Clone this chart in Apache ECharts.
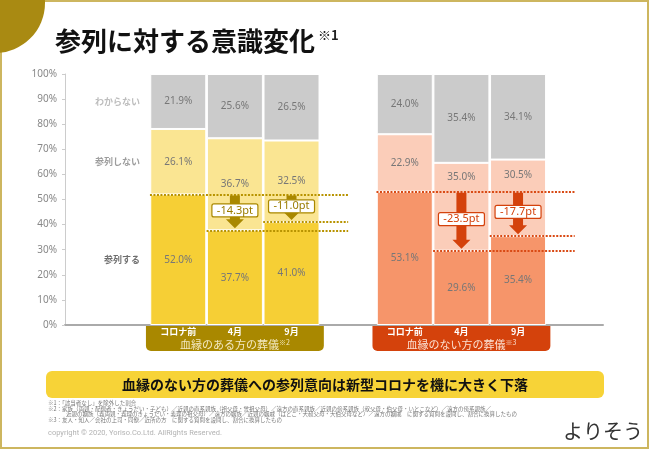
<!DOCTYPE html>
<html><head><meta charset="utf-8">
<script src="https://cdn.jsdelivr.net/npm/echarts@6/dist/echarts.min.js"></script>
<style>html,body{margin:0;padding:0;background:#fff}#c{width:650px;height:450px}</style>
</head><body><div id="c"></div>
<script>
// ---- data ----
const categories = ['コロナ前', '4月', '9月'];
const groupTitles = ['血縁のある方の葬儀', '血縁のない方の葬儀'];
const groupNotes = ['※2', '※3'];
const rowLabels = ['参列する', '参列しない', 'わからない'];
const kinAttend = [52.0, 37.7, 41.0];
const kinNotAttend = [26.1, 36.7, 32.5];
const kinUnknown = [21.9, 25.6, 26.5];
const nonKinAttend = [53.1, 29.6, 35.4];
const nonKinNotAttend = [22.9, 35.0, 30.5];
const nonKinUnknown = [24.0, 35.4, 34.1];
const titleText = '参列に対する意識変化';
const titleNote = '※1';
const bannerText = '血縁のない方の葬儀への参列意向は新型コロナを機に大きく下落';
const footnotes = [
  '※1：「該当者なし」を除外した割合',
  '※2：家族（両親・配偶者・きょうだい・子ども）／近親の直系親族（祖父母・曾祖父母）／遠方の直系親族／近親の傍系親族（叔父母・伯父母・いとこなど）／遠方の傍系親族／',
  '近親の姻族（義両親・義理のきょうだい・義理の祖父母）／遠方の姻族／近親の姻戚（はとこ・大叔父母・大伯父母など）／遠方の姻戚　に関する質問を設問し、割合に換算したもの',
  '※3：友人・知人／会社の上司・同僚／近所の方　に関する質問を設問し、割合に換算したもの'
];
const copyrightText = 'copyright © 2020, Yoriso.Co.Ltd. AllRights Reserved.';
const logoText = 'よりそう';

// ---- styles / layout ----
const JP = "'Noto Sans CJK JP', 'Noto Sans', sans-serif";
const groupStyles = [
  {bars: ['#F6CF35', '#FAE592', '#CBCBCB'], accent: '#A98800', line: '#B89300', text: '#9A7C00', title: '#F3E9C2'},
  {bars: ['#F6956A', '#FBCDB9', '#CBCBCB'], accent: '#D4420C', line: '#D94A14', text: '#D4420C', title: '#FBE0D2'}
];
const rowLabelColors = ['#6f6f6f', '#9d9d9d', '#bdbdbd'];

// half-bar-width slots along the x axis
const SLOTS = 20;
const slotNames = Array.from({length: SLOTS}, (_, k) => 's' + k);
const xOf = (g, i) => 4 + g * 8 + i * 2;

const groups = [[kinAttend, kinNotAttend, kinUnknown], [nonKinAttend, nonKinNotAttend, nonKinUnknown]];

function buildBarSeries(pxPerUnit) {
  return rowLabels.map((name, s) => {
    const data = new Array(SLOTS).fill(null);
    groups.forEach((grp, g) => grp[s].forEach((v, i) => {
      const item = {value: v, itemStyle: {color: groupStyles[g].bars[s]}};
      // keep the label clear of the change arrow: move it into the part above the reference line
      if (s === 1 && i > 0) {
        const base = grp[0][i];
        const mid = base + v / 2;
        const ref = grp[0][0];
        if (mid < ref && mid > base) {
          const newMid = (ref + base + v) / 2;
          item.label = {offset: [0, -(newMid - mid) * pxPerUnit]};
        }
      }
      data[xOf(g, i)] = item;
    }));
    const ser = {
      type: 'bar', name, stack: 'total', barWidth: 56, data,
      itemStyle: {borderColor: '#fff', borderWidth: 1},
      label: {show: true, position: 'inside', formatter: p => Number(p.value).toFixed(1) + '%', color: '#777', fontSize: 10, fontFamily: "'Noto Sans', sans-serif"},
      z: 2
    };
    if (s === 0) {
      ser.markLine = {
        silent: true, symbol: ['none', 'none'], label: {show: false},
        lineStyle: {type: [2, 1.5], width: 2},
        data: groups.flatMap((grp, g) => grp[0].map((v, i) => [
          {coord: [xOf(g, i) - 1, v], lineStyle: {color: groupStyles[g].line, type: [2, 1.5], width: 2}},
          {coord: [xOf(g, 0) + 6, v]}
        ]))
      };
    }
    return ser;
  });
}

// arrows
const arrowData = groups.flatMap((grp, g) => [1, 2].map(i => [xOf(g, i), grp[0][0], grp[0][i], g]));
const arrowSeries = {
  type: 'custom', z: 10, silent: true,
  encode: {x: 0, y: [1, 2]},
  data: arrowData,
  renderItem(params, api) {
    const st = groupStyles[api.value(3)];
    const top = api.coord([api.value(0), api.value(1)]);
    const bot = api.coord([api.value(0), api.value(2)]);
    const cx = top[0], y0 = top[1] + 1, tip = bot[1] - 2, headTop = tip - 9;
    const delta = (api.value(2) - api.value(1)).toFixed(1) + 'pt';
    const boxY = (y0 + headTop) / 2 + 3;
    return {type: 'group', children: [
      {type: 'polygon', shape: {points: [[cx - 5, y0], [cx + 5, y0], [cx + 5, headTop], [cx + 9, headTop], [cx, tip], [cx - 9, headTop], [cx - 5, headTop]]}, style: {fill: st.accent}},
      {type: 'rect', shape: {x: cx - 23, y: boxY - 6.5, width: 46, height: 13, r: 2}, style: {fill: '#fff', stroke: st.accent, lineWidth: 1.2}},
      {type: 'text', style: {text: delta, x: cx, y: boxY, align: 'center', verticalAlign: 'middle', fill: st.text, font: "11px 'Noto Sans', sans-serif"}}
    ]};
  }
};

// category bands under the axis
const bandSeries = {
  type: 'custom', z: 5, silent: true,
  encode: {x: [0, 1]},
  data: groups.map((grp, g) => [xOf(g, 0), xOf(g, 2), g]),
  renderItem(params, api) {
    const g = api.value(2), st = groupStyles[g];
    const l = api.coord([api.value(0) - 1, 0]);
    const r = api.coord([api.value(1) + 1, 0]);
    const y = l[1] + 1;
    const children = [
      {type: 'rect', shape: {x: l[0] - 4, y: y, width: r[0] - l[0] + 8, height: 25, r: [0, 0, 5, 5]}, style: {fill: st.accent}}
    ];
    categories.forEach((c, i) => {
      const p = api.coord([api.value(0) + i * 2, 0]);
      children.push({type: 'text', style: {text: c, x: p[0], y: y + 6, align: 'center', verticalAlign: 'middle', fill: '#fff', font: "bold 9px " + JP}});
    });
    children.push({type: 'text', style: {
      text: '{t|' + groupTitles[g] + '}{s|' + groupNotes[g] + '}',
      x: (l[0] + r[0]) / 2, y: y + 19, align: 'center', verticalAlign: 'middle',
      rich: {t: {fontSize: 11, fontFamily: JP, fill: st.title}, s: {fontSize: 7, fontFamily: JP, fill: st.title, padding: [0, 0, 6, 0]}}
    }});
    return {type: 'group', children};
  }
};

// row labels left of the first bar
let acc = 0;
const rowLabelData = rowLabels.map((_, s) => {
  const v = groups[0][s][0];
  const mid = acc + v / 2; acc += v;
  return [xOf(0, 0), mid, s];
});
const rowLabelSeries = {
  type: 'custom', z: 5, silent: true,
  encode: {x: 0, y: 1},
  data: rowLabelData,
  renderItem(params, api) {
    const p = api.coord([api.value(0) - 1, api.value(1)]);
    return {type: 'text', style: {text: rowLabels[api.value(2)], x: p[0] - 10, y: p[1], align: 'right', verticalAlign: 'middle', fill: rowLabelColors[api.value(2)], font: "bold 9px " + JP}};
  }
};

const chart = echarts.init(document.getElementById('c'), null, {renderer: 'canvas'});
const baseOption = {
  animation: false,
  textStyle: {fontFamily: JP},
  grid: {left: 65, right: 47, top: 74, bottom: 125, containLabel: false},
  xAxis: {type: 'category', data: slotNames, boundaryGap: false,
    axisLine: {show: true, lineStyle: {color: '#aaaaaa', width: 2}}, axisTick: {show: false}, axisLabel: {show: false}, splitLine: {show: false}},
  yAxis: {type: 'value', min: 0, max: 100, interval: 10,
    axisLine: {show: true, lineStyle: {color: '#cccccc', width: 1}},
    axisTick: {show: true, length: 3, lineStyle: {color: '#cccccc'}},
    axisLabel: {formatter: '{value}%', color: '#888', fontSize: 10, margin: 8, fontFamily: "'Noto Sans', sans-serif"},
    splitLine: {show: false}},
  series: [...buildBarSeries(0), arrowSeries, bandSeries, rowLabelSeries],
  graphic: [
    {type: 'rect', silent: true, shape: {x: 1, y: 1, width: 647, height: 447}, style: {fill: 'none', stroke: '#CDB65F', lineWidth: 2}},
    {type: 'circle', silent: true, shape: {cx: -5, cy: 3, r: 50}, style: {fill: '#A98A12'}},
    {type: 'text', silent: true, style: {text: titleText, x: 55, y: 41, verticalAlign: 'middle', fill: '#111', font: "bold 26px " + JP}},
    {type: 'text', silent: true, style: {text: titleNote, x: 318, y: 35, verticalAlign: 'middle', fill: '#222', font: "bold 13px " + JP}},
    {type: 'rect', silent: true, shape: {x: 46, y: 371, width: 558, height: 27, r: 6}, style: {fill: '#F7D337'}},
    {type: 'text', silent: true, style: {text: bannerText, x: 325, y: 385, align: 'center', verticalAlign: 'middle', fill: '#111', font: "bold 14px " + JP}},
    {type: 'text', silent: true, style: {text: footnotes[0], x: 48, y: 403, verticalAlign: 'middle', fill: '#777', font: "5.5px " + JP}},
    {type: 'text', silent: true, style: {text: footnotes[1], x: 48, y: 408.5, verticalAlign: 'middle', fill: '#777', font: "5.5px " + JP}},
    {type: 'text', silent: true, style: {text: footnotes[2], x: 66, y: 414, verticalAlign: 'middle', fill: '#777', font: "5.5px " + JP}},
    {type: 'text', silent: true, style: {text: footnotes[3], x: 48, y: 419.5, verticalAlign: 'middle', fill: '#777', font: "5.5px " + JP}},
    {type: 'text', silent: true, style: {text: copyrightText, x: 48, y: 433, verticalAlign: 'middle', fill: '#b3b3b3', font: "7.5px Roboto, sans-serif"}},
    {type: 'text', silent: true, style: {text: logoText, x: 603, y: 431, align: 'center', verticalAlign: 'middle', fill: '#333', font: "20px " + JP}}
  ]
};
chart.setOption(baseOption);
// pixel size of one percent from the library's own y scale
const pxPerUnit = chart.convertToPixel({yAxisIndex: 0}, 0) - chart.convertToPixel({yAxisIndex: 0}, 1);
baseOption.series = [...buildBarSeries(pxPerUnit), arrowSeries, bandSeries, rowLabelSeries];
chart.setOption(baseOption, true);
</script></body></html>
